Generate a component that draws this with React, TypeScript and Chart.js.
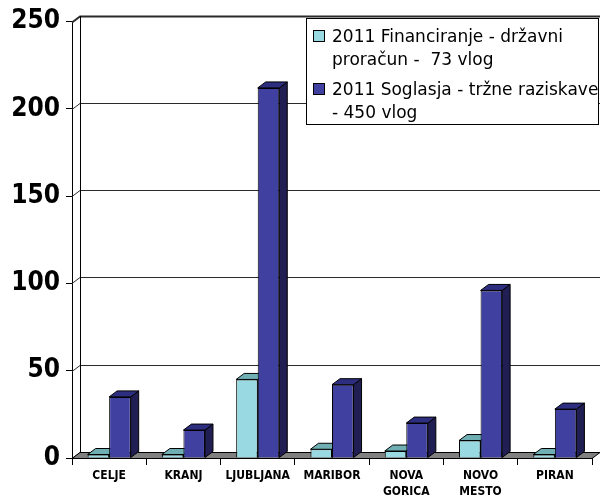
import React, { useEffect, useRef } from "react";
import { Chart, registerables } from "chart.js";

Chart.register(...registerables);

const categories: (string | string[])[] = [
  "CELJE",
  "KRANJ",
  "LJUBLJANA",
  "MARIBOR",
  ["NOVA", "GORICA"],
  ["NOVO", "MESTO"],
  "PIRAN",
];
const financiranje = [2, 2, 45, 5, 4, 10, 2];
const soglasja = [35, 16, 212, 42, 20, 96, 28];
const seriesNames = [
  ["2011 Financiranje - državni", "proračun -  73 vlog"],
  ["2011 Soglasja - tržne raziskave", "- 450 vlog"],
];
const yTicks = [0, 50, 100, 150, 200, 250];

const DX = 8;
const DY = 6;
const COLORS = [
  { front: "#99D9E1", top: "#6FAFB4", side: "#5A9298" },
  { front: "#4040A0", top: "#2E2E80", side: "#201E52" },
];
const CONDENSED = "'DejaVu Sans Condensed', 'DejaVu Sans', sans-serif";
const SANS = "'DejaVu Sans', sans-serif";

const threeD = {
  id: "threeD",
  beforeDatasetsDraw(chart: any) {
    const { ctx, chartArea: ca, scales } = chart;
    const y = scales.y;
    ctx.save();
    ctx.lineWidth = 1;
    // back wall grid lines
    y.ticks.forEach((t: any, i: number) => {
      const py = Math.round(y.getPixelForValue(t.value)) + 0.5;
      ctx.strokeStyle = "#2a2a2a";
      ctx.lineWidth = i === y.ticks.length - 1 ? 2 : 1;
      ctx.beginPath();
      ctx.moveTo(ca.left, py);
      ctx.lineTo(ca.left + DX, py - DY);
      ctx.lineTo(chart.width, py - DY);
      ctx.stroke();
    });
    ctx.lineWidth = 1;
    ctx.strokeStyle = "#000";
    // back wall left edge
    ctx.beginPath();
    ctx.moveTo(ca.left + DX + 0.5, Math.round(ca.top) - DY);
    ctx.lineTo(ca.left + DX + 0.5, Math.round(ca.bottom) - DY);
    ctx.stroke();
    // floor
    const b = Math.round(ca.bottom) + 0.5;
    ctx.fillStyle = "#808080";
    ctx.beginPath();
    ctx.moveTo(ca.left, b);
    ctx.lineTo(ca.right, b);
    ctx.lineTo(ca.right + DX, b - DY);
    ctx.lineTo(ca.left + DX, b - DY);
    ctx.closePath();
    ctx.fill();
    ctx.stroke();
    // bar sides and tops
    chart.data.datasets.forEach((ds: any, i: number) => {
      const meta = chart.getDatasetMeta(i);
      const c = COLORS[i];
      meta.data.forEach((bar: any) => {
        const { x: bx, y: by, base, width } = bar.getProps(["x", "y", "base", "width"], true);
        const l = bx - width / 2;
        const r = bx + width / 2;
        ctx.fillStyle = c.side;
        ctx.beginPath();
        ctx.moveTo(r, by);
        ctx.lineTo(r + DX, by - DY);
        ctx.lineTo(r + DX, base - DY);
        ctx.lineTo(r, base);
        ctx.closePath();
        ctx.fill();
        ctx.stroke();
        ctx.fillStyle = c.top;
        ctx.beginPath();
        ctx.moveTo(l, by);
        ctx.lineTo(l + DX, by - DY);
        ctx.lineTo(r + DX, by - DY);
        ctx.lineTo(r, by);
        ctx.closePath();
        ctx.fill();
        ctx.stroke();
      });
    });
    ctx.restore();
  },
  afterDraw(chart: any) {
    const { ctx, chartArea: ca } = chart;
    ctx.save();
    // front axis extension
    ctx.strokeStyle = "#000";
    ctx.lineWidth = 1;
    // legend
    const lx = 306.5, ly = 18.5, lw = 292, lh = 106;
    ctx.fillStyle = "#fff";
    ctx.fillRect(lx, ly, lw, lh);
    ctx.strokeRect(lx, ly, lw, lh);
    ctx.font = `17px ${SANS}`;
    ctx.textBaseline = "alphabetic";
    const rows = [
      { base: 42, marker: 30 },
      { base: 95, marker: 83 },
    ];
    seriesNames.forEach((lines, i) => {
      const r = rows[i];
      ctx.fillStyle = COLORS[i].front;
      ctx.fillRect(313.5, r.marker + 0.5, 11, 11);
      ctx.strokeStyle = "#000";
      ctx.strokeRect(313.5, r.marker + 0.5, 11, 11);
      ctx.fillStyle = "#000";
      lines.forEach((t, j) => ctx.fillText(t, 332, r.base + j * 23));
    });
    ctx.restore();
  },
};

export default function App() {
  const ref = useRef<HTMLCanvasElement>(null);
  useEffect(() => {
    const chart = new Chart(ref.current!, {
      type: "bar",
      data: {
        labels: categories,
        datasets: [
          {
            label: seriesNames[0].join(" "),
            data: financiranje,
            backgroundColor: COLORS[0].front,
            borderColor: "#000",
            borderWidth: 1,
          },
          {
            label: seriesNames[1].join(" "),
            data: soglasja,
            backgroundColor: COLORS[1].front,
            borderColor: "#000",
            borderWidth: 1,
          },
        ],
      },
      options: {
        responsive: false,
        animation: false,
        layout: { padding: { top: 18, right: 8, left: 0, bottom: 0 } },
        datasets: { bar: { categoryPercentage: 0.58, barPercentage: 1 } },
        plugins: { legend: { display: false }, tooltip: { enabled: false } },
        scales: {
          x: {
            offset: true,
            grid: {
              display: true,
              drawOnChartArea: false,
              drawTicks: true,
              tickLength: 7,
              color: "#000",
              offset: true,
            },
            border: { display: false },
            ticks: {
              color: "#000",
              padding: 3,
              maxRotation: 0,
              autoSkip: false,
              font: { family: CONDENSED, weight: "bold", size: 12, lineHeight: 1.35 },
            },
            afterFit: (s: any) => {
              s.height = 39;
            },
          },
          y: {
            min: 0,
            max: 250,
            afterBuildTicks: (s: any) => {
              s.ticks = yTicks.map((v) => ({ value: v }));
            },
            grid: {
              display: true,
              drawOnChartArea: false,
              drawTicks: true,
              tickLength: 6,
              color: "#000",
            },
            border: { display: true, color: "#000" },
            ticks: {
              color: "#000",
              padding: 6,
              font: { family: CONDENSED, weight: "bold", size: 26 },
            },
            afterFit: (s: any) => {
              s.width = 72;
            },
          },
        },
      },
      plugins: [threeD],
    });
    return () => chart.destroy();
  }, []);
  return (
    <div style={{ position: "fixed", left: 0, top: 0, width: 600, height: 497, background: "#fff" }}>
      <canvas ref={ref} width={600} height={497} style={{ width: 600, height: 497, display: "block" }} />
    </div>
  );
}
